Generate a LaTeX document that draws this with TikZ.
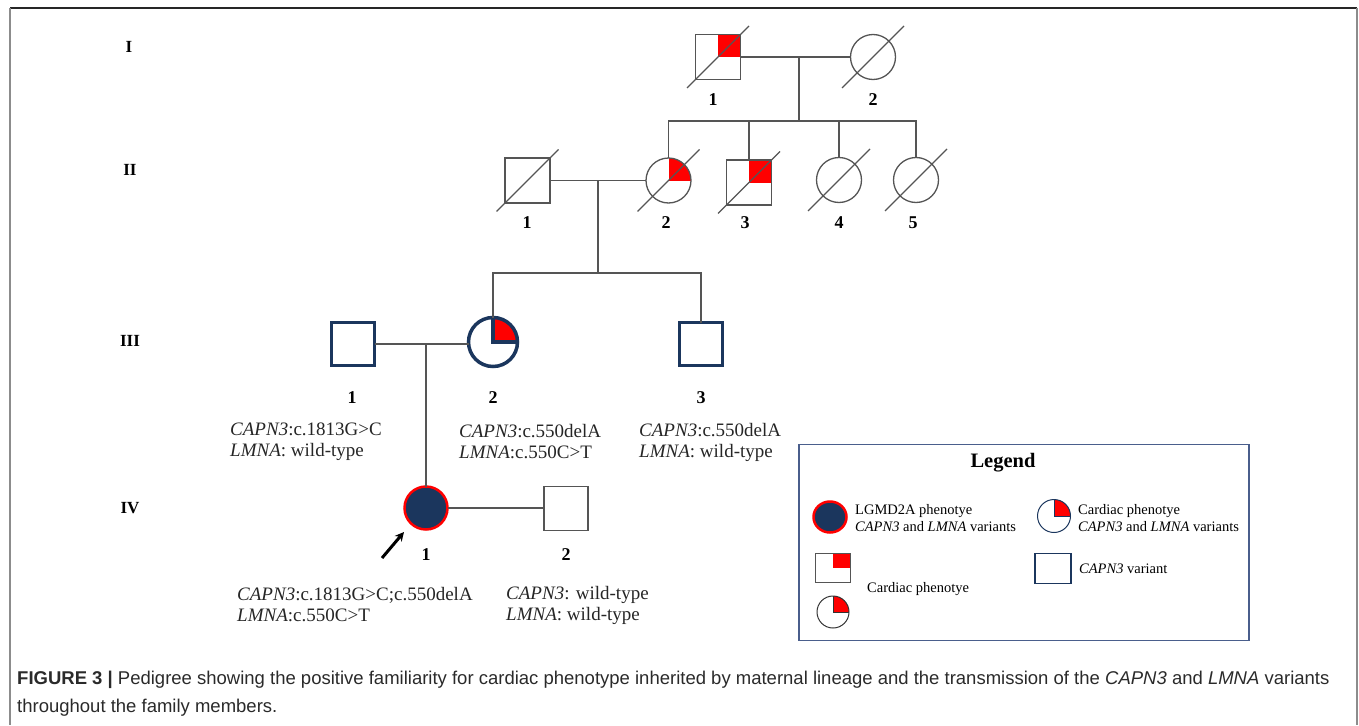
\documentclass[tikz,border=0pt]{standalone}
\usepackage{fontspec}
\setmainfont{Liberation Serif}
\newfontfamily\capfont{Liberation Sans}
\usetikzlibrary{shapes.geometric,arrows.meta,calc}
\definecolor{navy}{HTML}{1B365D}
\definecolor{pline}{HTML}{555555}
\definecolor{legblue}{HTML}{4A5E8C}
\definecolor{captxt}{HTML}{2A2A2A}
\begin{document}
\begin{tikzpicture}[x=1pt,y=1pt,
  sq/.style={draw=pline, line width=1.3pt, rectangle, minimum size=45pt, inner sep=0pt, outer sep=0pt, fill=white},
  ci/.style={draw=pline, line width=1.3pt, circle, minimum size=45pt, inner sep=0pt, outer sep=0pt, fill=white},
  navysq/.style={draw=navy, line width=3.5pt, rectangle, minimum size=43pt, inner sep=0pt, outer sep=0pt, fill=white},
  navyci/.style={draw=navy, line width=3.5pt, circle, minimum size=49pt, inner sep=0pt, outer sep=0pt, fill=white},
  redq/.style={path picture={\fill[red] (path picture bounding box.center) rectangle (path picture bounding box.north east);}},
  rel/.style={draw=pline, line width=1.3pt},
  dec/.style={draw=pline, line width=1.1pt},
  num/.style={font=\fontsize{18}{20}\selectfont\bfseries, inner sep=0pt},
  gen/.style={font=\fontsize{17}{19}\selectfont\bfseries, inner sep=0pt},
  geno/.style={font=\fontsize{19}{21}\selectfont, text=black!85, align=left, anchor=west, inner sep=0pt},
  leg/.style={font=\fontsize{14.5}{17.5}\selectfont, align=left, anchor=west, inner sep=0pt},
  captext/.style={font=\capfont\fontsize{18.5}{22}\selectfont, text=captxt, anchor=west, inner sep=0pt},
]
\useasboundingbox (0,0) rectangle (1359,-725);
% frame
\draw[color=black!85, line width=1.2pt] (10,-8) -- (1357,-8);
\draw[color=black!45, line width=1.5pt] (10,-8) -- (10,-725);
\draw[color=black!45, line width=1.5pt] (1357,-8) -- (1357,-725);

% generation labels
\node[gen] (gI) at (129,-47) {I};
\node[gen] (gII) at (130,-170) {II};
\node[gen] (gIII) at (130,-341) {III};
\node[gen] (gIV) at (130,-508) {IV};

% Generation I
\node[sq, redq] (i1) at (718,-57) {};
\node[ci] (i2) at (873,-57) {};
\draw[rel] (i1.east) -- (i2.west);
\coordinate (m1) at (799,-57);
\coordinate (sib1) at (799,-121);
\draw[rel] (m1) -- (sib1);

% Generation II
\node[sq] (ii1) at (527.5,-180.5) {};
\node[ci, redq] (ii2) at (668.5,-180.5) {};
\node[sq, redq] (ii3) at (749,-182.5) {};
\node[ci] (ii4) at (839,-180) {};
\node[ci] (ii5) at (916,-180) {};
\draw[rel] (ii2.north) -- (ii2.north |- sib1) -- (ii5.north |- sib1) -- (ii5.north);
\draw[rel] (ii3.north) -- (ii3.north |- sib1);
\draw[rel] (ii4.north) -- (ii4.north |- sib1);
\draw[rel] (ii1.east) -- (ii2.west);
\coordinate (m2) at (598,-180.5);
\coordinate (sib2) at (598,-273);
\draw[rel] (m2) -- (sib2);

% deceased strokes
\foreach \n in {i1,i2,ii1,ii2,ii3,ii4,ii5}{
  \draw[dec] ($(\n.center)+(-31,-31)$) -- ($(\n.center)+(31,31)$);
}

% Generation III
\node[navysq] (iii1) at (353,-344) {};
\node[navyci, redq] (iii2) at (493,-342) {};
\draw[navy, line width=3.5pt] (iii2.north) -- (iii2.center) -- (iii2.east);
\node[navysq] (iii3) at (701,-344) {};
\draw[rel] (iii2.north) -- (iii2.north |- sib2) -- (iii3.north |- sib2) -- (iii3.north);
\draw[rel] (iii1.east) -- (iii1.east -| iii2.west);
\coordinate (m3) at (426,-344);

% Generation IV
\node[circle, draw=red, line width=2.5pt, fill=navy, minimum size=43pt, inner sep=0pt, outer sep=0pt] (iv1) at (426,-508) {};
\node[sq, minimum size=44pt] (iv2) at (566,-508.5) {};
\draw[rel] (m3) -- (iv1.north);
\draw[rel] (iv1.east) -- (iv1.east -| iv2.west);
\coordinate (arT) at (382,-558);
\coordinate (arH) at (404,-532);
\draw[line width=3pt, -{Stealth[length=9pt,width=9pt]}] (arT) -- (arH);

% numbers
\node[num] (n11) at (713,-100) {1};
\node[num] (n12) at (873,-100) {2};
\node[num] (n21) at (527,-223) {1};
\node[num] (n22) at (666,-223) {2};
\node[num] (n23) at (745,-223) {3};
\node[num] (n24) at (839,-223) {4};
\node[num] (n25) at (913,-223) {5};
\node[num] (n31) at (352,-398) {1};
\node[num] (n32) at (493,-398) {2};
\node[num] (n33) at (701,-398) {3};
\node[num] (n41) at (426,-555) {1};
\node[num] (n42) at (566,-555) {2};

% genotypes
\node[geno] (t31) at (230,-442) {\textit{CAPN3}:c.1813G>C\\\textit{LMNA}: wild-type};
\node[geno] (t32) at (459,-442) {\textit{CAPN3}:c.550delA\\\textit{LMNA}:c.550C>T};
\node[geno] (t33) at (639,-442) {\textit{CAPN3}:c.550delA\\\textit{LMNA}: wild-type};
\node[geno] (t41) at (237,-605) {\textit{CAPN3}:c.1813G>C;c.550delA\\\textit{LMNA}:c.550C>T};
\node[geno] (t42) at (506,-605) {\textit{CAPN3}: wild-type\\\textit{LMNA}: wild-type};

% legend
\draw[legblue, line width=1.2pt] (799,-444.5) rectangle (1249,-640.5);
\node[font=\fontsize{20.5}{23}\selectfont\bfseries, inner sep=0pt] (legt) at (1003,-463) {Legend};
\node[ellipse, draw=red, line width=2.5pt, fill=navy, minimum width=33pt, minimum height=31pt, inner sep=0pt] (lg1) at (830,-517) {};
\node[leg] (lt1) at (855,-518) {LGMD2A phenotye\\\textit{CAPN3} and \textit{LMNA} variants};
\node[circle, draw=navy, line width=1pt, minimum size=33pt, inner sep=0pt, outer sep=0pt, redq] (lg2) at (1054,-516) {};
\draw[navy, line width=1pt] (lg2.north) -- (lg2.center) -- (lg2.east);
\node[leg] (lt2) at (1078,-518) {Cardiac phenotye\\\textit{CAPN3} and \textit{LMNA} variants};
\node[rectangle, draw=pline, line width=1pt, minimum width=35pt, minimum height=29pt, inner sep=0pt, outer sep=0pt, redq] (lg3) at (833,-568) {};
\node[circle, draw=black!80, line width=1pt, minimum size=32pt, inner sep=0pt, outer sep=0pt, redq] (lg4) at (833,-612) {};
\draw[black!80, line width=1pt] (lg4.north) -- (lg4.center) -- (lg4.east);
\node[leg] (lt3) at (867,-589) {Cardiac phenotye};
\node[rectangle, draw=navy, line width=1.6pt, minimum width=36pt, minimum height=30pt, inner sep=0pt] (lg5) at (1053,-568.5) {};
\node[leg] (lt4) at (1079,-569) {\textit{CAPN3} variant};

% caption
\node[captext] (cap1) at (17,-680) {\textbf{FIGURE 3 |} Pedigree showing the positive familiarity for cardiac phenotype inherited by maternal lineage and the transmission of the \textit{CAPN3} and \textit{LMNA} variants};
\node[captext] (cap2) at (17,-708) {throughout the family members.};
\end{tikzpicture}
\end{document}
